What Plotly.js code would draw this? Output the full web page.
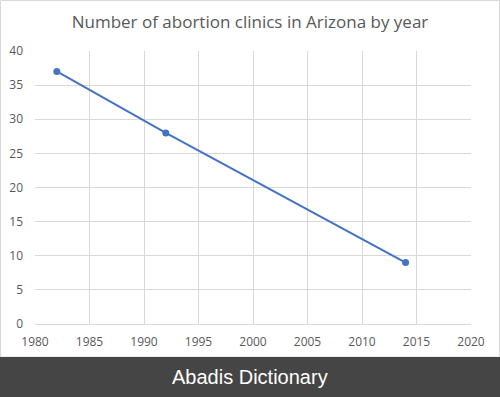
<!DOCTYPE html>
<html>
<head>
<meta charset="utf-8">
<script src="https://cdn.plot.ly/plotly-3.0.1.min.js"></script>
<style>html,body{margin:0;padding:0;background:#fff;}#chart{width:500px;height:397px;}</style>
</head>
<body>
<div id="chart"></div>
<script>
var years = [1982, 1992, 2014];
var clinics = [37, 28, 9];
var titleText = "Number of abortion clinics in Arizona by year";
var bannerText = "Abadis Dictionary";

var L = 35, R = 29, T = 51, B = 73, W = 500, H = 397;
var pw = W - L - R, ph = H - T - B;
function px(x){ return (x - L) / pw; }
function py(y){ return (H - B - y) / ph; }

var trace = {
  x: years, y: clinics, type: 'scatter', mode: 'lines+markers',
  line: {color: '#4472C4', width: 2},
  marker: {color: '#4472C4', size: 7},
  cliponaxis: false, hoverinfo: 'none'
};

var layout = {
  width: W, height: H,
  margin: {l: L, r: R, t: T, b: B, pad: 0},
  paper_bgcolor: '#ffffff', plot_bgcolor: '#ffffff',
  showlegend: false,
  font: {family: 'Open Sans, sans-serif', color: '#595959', size: 12},
  title: {text: titleText, x: 0.5, xanchor: 'center', y: 1 - 22/H, yanchor: 'middle',
          font: {family: 'Open Sans, sans-serif', size: 17, color: '#595959'}},
  xaxis: {range: [1980, 2020], dtick: 5, tick0: 1980, showgrid: true, gridcolor: '#d9d9d9', gridwidth: 1,
          zeroline: false, showline: true, linecolor: '#d9d9d9', ticks: '', ticklen: 0,
          ticklabelstandoff: 7,
          tickfont: {color: '#595959', size: 12}, fixedrange: true},
  yaxis: {range: [0, 40], dtick: 5, tick0: 0, showgrid: true, gridcolor: '#d9d9d9', gridwidth: 1,
          zeroline: false, showline: false, ticks: '', ticklabelstandoff: 11,
          tickfont: {color: '#595959', size: 12},
          fixedrange: true},
  shapes: [
    {type: 'rect', xref: 'paper', yref: 'paper', x0: px(0.5), x1: px(499.5), y0: py(357), y1: py(0.5),
     line: {color: '#d9d9d9', width: 1}, fillcolor: 'rgba(0,0,0,0)', layer: 'below'},
    {type: 'rect', xref: 'paper', yref: 'paper', x0: px(-2), x1: px(502), y0: py(399), y1: py(357),
     line: {width: 0}, fillcolor: '#454545', layer: 'above'}
  ],
  annotations: [
    {text: bannerText, xref: 'paper', yref: 'paper', x: px(250), y: py(377), xanchor: 'center', yanchor: 'middle',
     showarrow: false, font: {family: 'Liberation Sans, Arial, sans-serif', size: 20, color: '#ffffff'}}
  ]
};

Plotly.newPlot('chart', [trace], layout, {displayModeBar: false, staticPlot: true});
</script>
</body>
</html>
